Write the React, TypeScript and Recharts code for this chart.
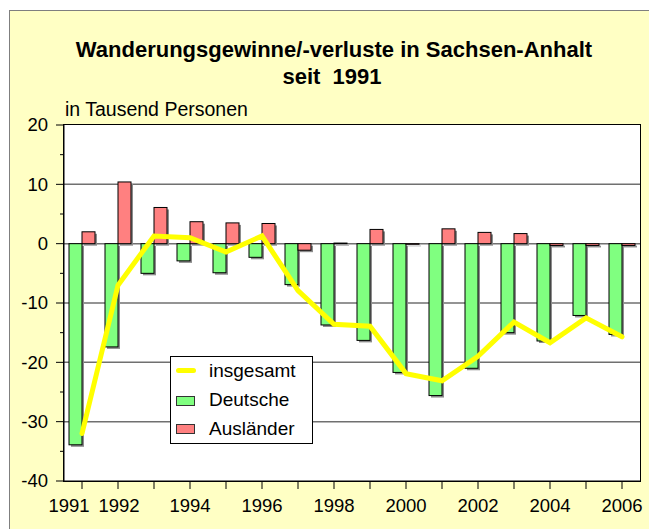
import React from "react";
import {
  Bar,
  CartesianGrid,
  ComposedChart,
  Legend,
  Line,
  XAxis,
  YAxis,
} from "recharts";

const years = [
  "1991", "1992", "1993", "1994", "1995", "1996", "1997", "1998",
  "1999", "2000", "2001", "2002", "2003", "2004", "2005", "2006",
];
const deutsche = [
  -33.9, -17.4, -5.0, -2.9, -4.9, -2.3, -6.9, -13.7,
  -16.3, -21.7, -25.6, -21.0, -15.0, -16.4, -12.1, -15.3,
];
const auslaender = [
  2.0, 10.4, 6.1, 3.7, 3.5, 3.4, -1.1, 0.1,
  2.4, -0.1, 2.5, 1.9, 1.7, -0.3, -0.3, -0.3,
];
const insgesamt = [
  -32.0, -7.0, 1.3, 1.0, -1.4, 1.3, -7.9, -13.6,
  -13.9, -21.9, -23.1, -19.0, -13.2, -16.7, -12.5, -15.7,
];
const yTicks = [-40, -35, -30, -25, -20, -15, -10, -5, 0, 5, 10, 15, 20];
const gridValues = [-30, -20, -10, 0, 10];
const shownYears = ["1991", "1992", "1994", "1996", "1998", "2000", "2002", "2004", "2006"];

const data = years.map((year, i) => ({
  year,
  deutsche: deutsche[i],
  auslaender: auslaender[i],
  insgesamt: insgesamt[i],
}));

const FONT = "Arial, 'Liberation Sans', sans-serif";
const BG = "#FFFFC4";

// bar with a small grey drop shadow, like the old Excel look
function ShadowBar(props: any) {
  const { x, y, width, height, fill } = props;
  if (width == null || height == null) return null;
  const top = Math.min(y, y + height);
  const h = Math.abs(height);
  return (
    <g>
      <rect x={x + 2} y={top + 2} width={width} height={h} fill="#8c8c8c" />
      <rect x={x} y={top} width={width} height={h} fill={fill} stroke="#000" strokeWidth={1} />
    </g>
  );
}

function YTick({ x, y, payload }: any) {
  const v = payload.value;
  const major = v % 10 === 0;
  return (
    <g>
      <line x1={x - (major ? 8 : 4)} x2={x} y1={y} y2={y} stroke="#000" />
      {major && (
        <text x={x - 16} y={y} dy="0.35em" textAnchor="end" fontSize={18.5} fontFamily={FONT} fill="#000">
          {v}
        </text>
      )}
    </g>
  );
}

function XTick({ x, y, payload }: any) {
  const v = String(payload.value);
  const shift = v === "1991" ? -13 : v === "1992" ? 1 : 0;
  return (
    <g>
      <line x1={x} x2={x} y1={y} y2={y + 8} stroke="#000" />
      {shownYears.includes(v) && (
        <text x={x + shift} y={y + 31} textAnchor="middle" fontSize={18.5} fontFamily={FONT} fill="#000">
          {v}
        </text>
      )}
    </g>
  );
}

function LegendBox() {
  const row = { position: "absolute" as const, left: 38, fontSize: 19, fontFamily: FONT, lineHeight: "20px" };
  return (
    <div style={{ position: "relative", width: 143, height: 88, background: "#fff", border: "1px solid #000", boxSizing: "border-box" }}>
      <div style={{ position: "absolute", left: 5, top: 11, width: 20, height: 5, borderRadius: 3, background: "#FFFF00" }} />
      <div style={{ ...row, top: 4 }}>insgesamt</div>
      <div style={{ position: "absolute", left: 5, top: 39, width: 17, height: 8, background: "#80FF80", border: "1px solid #333" }} />
      <div style={{ ...row, top: 33 }}>Deutsche</div>
      <div style={{ position: "absolute", left: 5, top: 67, width: 17, height: 8, background: "#FF8080", border: "1px solid #333" }} />
      <div style={{ ...row, top: 62 }}>Ausländer</div>
    </div>
  );
}

export default function App() {
  return (
    <div style={{ position: "absolute", left: 0, top: 0, width: 649, height: 529, overflow: "hidden", background: "#fff" }}>
      <div
        style={{
          position: "absolute",
          left: 9,
          top: 10,
          width: 660,
          height: 540,
          background: BG,
          border: "1px solid #7f7f7f",
        }}
      />
      <div
        style={{
          position: "absolute",
          left: 63,
          top: 124,
          width: 578,
          height: 358,
          background: "#fff",
          border: "1px solid #000",
          boxSizing: "border-box",
        }}
      />
      <svg width={649} height={529} style={{ position: "absolute", left: 0, top: 0 }}>
        <text x={334} y={57} textAnchor="middle" fontSize={22} fontWeight="bold" fontFamily={FONT} fill="#000">
          Wanderungsgewinne/-verluste in Sachsen-Anhalt
        </text>
        <text x={332} y={84} textAnchor="middle" fontSize={22} fontWeight="bold" fontFamily={FONT} fill="#000" style={{ whiteSpace: "pre" }}>
          {"seit  1991"}
        </text>
        <text x={65} y={116} fontSize={19.5} fontFamily={FONT} fill="#000">
          in Tausend Personen
        </text>
      </svg>
      <div style={{ position: "absolute", left: 0, top: 0 }}>
        <ComposedChart
          width={649}
          height={529}
          data={data}
          barSize={13}
          barGap={0}
          margin={{ top: 125, right: 9, bottom: 0, left: 4 }}
        >
          <CartesianGrid horizontal vertical={false} horizontalValues={gridValues} stroke="#707070" strokeWidth={1.5} />
          <XAxis
            dataKey="year"
            height={48}
            interval={0}
            tickSize={0}
            tickMargin={0}
            tickLine={false}
            axisLine={{ stroke: "#000" }}
            tick={<XTick />}
          />
          <YAxis
            type="number"
            width={60}
            domain={[-40, 20]}
            ticks={yTicks}
            interval={0}
            tickSize={0}
            tickMargin={0}
            tickLine={false}
            axisLine={{ stroke: "#000" }}
            tick={<YTick />}
          />
          <Legend
            layout="horizontal"
            verticalAlign="middle"
            align="center"
            wrapperStyle={{ left: 170, top: 356, width: 143, height: 88 }}
            content={() => <LegendBox />}
          />
          <Bar dataKey="deutsche" name="Deutsche" fill="#80FF80" shape={<ShadowBar />} isAnimationActive={false} />
          <Bar dataKey="auslaender" name="Ausländer" fill="#FF8080" shape={<ShadowBar />} isAnimationActive={false} />
          <Line
            dataKey="insgesamt"
            name="insgesamt"
            type="linear"
            stroke="#FFFF00"
            strokeWidth={5}
            strokeLinecap="round"
            dot={false}
            activeDot={false}
            isAnimationActive={false}
          />
        </ComposedChart>
      </div>
    </div>
  );
}
